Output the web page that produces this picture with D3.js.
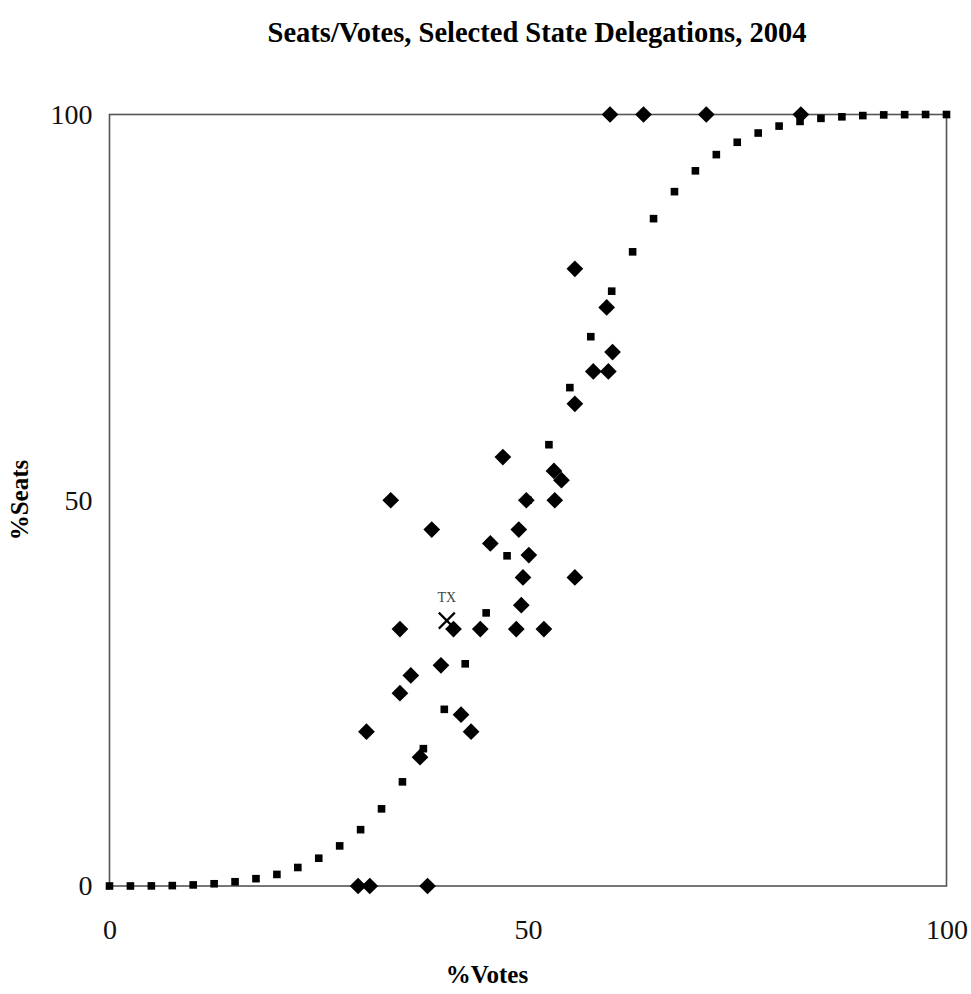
<!DOCTYPE html>
<html><head><meta charset="utf-8">
<script src="https://cdn.jsdelivr.net/npm/d3@7"></script>
<style>body{margin:0;background:#fff}svg{display:block}</style>
</head><body>
<svg id="chart" width="971" height="994"></svg>
<script>
// Cube-law reference curve (% votes vs % seats)
const curveVotes = [0,2.5,5,7.5,10,12.5,15,17.5,20,22.5,25,27.5,30,32.5,35,37.5,40,42.5,45,47.5,50,
  52.5,55,57.5,60,62.5,65,67.5,70,72.5,75,77.5,80,82.5,85,87.5,90,92.5,95,97.5,100];
const curveSeats = [0,0.002,0.015,0.05,0.14,0.29,0.55,0.95,1.5,2.4,3.6,5.2,7.3,10.0,13.5,17.8,22.9,28.8,35.4,42.8,50,
  57.2,64.6,71.2,77.1,82.2,86.5,90.0,92.7,94.8,96.4,97.6,98.5,99.1,99.5,99.7,99.86,99.95,99.98,100,100];

// State delegations (% votes, % seats)
const stateVotes = [29.7,31.1,38.0,30.7,33.6,34.7,34.7,36.0,37.1,38.5,39.6,41.1,42.0,43.2,44.3,45.5,47.0,48.6,48.9,49.2,49.4,49.8,50.1,51.9,53.1,53.2,54.0,55.6,55.6,55.6,57.8,59.4,59.6,60.1,59.8,63.8,71.3,82.6];
const stateSeats = [0,0,0,20.0,50.0,33.3,25.0,27.3,16.7,46.2,28.6,33.3,22.2,20.0,33.3,44.4,55.6,33.3,46.2,36.4,40.0,50.0,42.9,33.3,53.8,50.0,52.6,40.0,62.5,80.0,66.7,75.0,66.7,69.2,100,100,100,100];

// Highlighted state
const hlLabel = ["TX"];
const hlVotes = [40.3];
const hlSeats = [34.4];

const xTicks = [0,50,100];
const yTicks = [0,50,100];

const svg = d3.select("#chart");
const serif = "'Liberation Serif','DejaVu Serif',serif";
const x = d3.scaleLinear().domain([0,100]).range([109.5,946.5]);
const y = d3.scaleLinear().domain([0,100]).range([886,114.5]);

// frame
svg.append("rect").attr("x",x(0)).attr("y",y(100))
  .attr("width",x(100)-x(0)).attr("height",y(0)-y(100))
  .attr("fill","none").attr("stroke","#555").attr("stroke-width",1.6);

// axes (labels only)
const xAxis = d3.axisBottom(x).tickValues(xTicks).tickSize(0).tickPadding(33).tickFormat(d3.format("d"));
svg.append("g").attr("transform",`translate(0,${y(0)})`).call(xAxis)
  .call(g=>g.select(".domain").remove())
  .selectAll("text").attr("font-family",serif).attr("font-size",28).attr("fill","#111");
const yAxis = d3.axisLeft(y).tickValues(yTicks).tickSize(0).tickPadding(17).tickFormat(d3.format("d"));
svg.append("g").attr("transform",`translate(${x(0)},0)`).call(yAxis)
  .call(g=>g.select(".domain").remove())
  .selectAll("text").attr("font-family",serif).attr("font-size",28).attr("fill","#111");

// curve squares
svg.append("g").selectAll("rect").data(curveVotes.map((v,i)=>[v,curveSeats[i]])).join("rect")
  .attr("x",d=>x(d[0])-3.8).attr("y",d=>y(d[1])-3.8).attr("width",7.6).attr("height",7.6).attr("fill","#000");

// diamonds
svg.append("g").selectAll("path").data(stateVotes.map((v,i)=>[v,stateSeats[i]])).join("path")
  .attr("d", d3.symbol().type(d3.symbolSquare).size(140))
  .attr("transform",d=>`translate(${x(d[0])},${y(d[1])}) rotate(45)`).attr("fill","#000");

// highlighted cross
const hl = svg.append("g").selectAll("g").data(hlLabel.map((l,i)=>({l,v:hlVotes[i],s:hlSeats[i]}))).join("g")
  .attr("transform",d=>`translate(${x(d.v)},${y(d.s)})`);
hl.append("path").attr("d","M-8,-8L8,8M-8,8L8,-8").attr("stroke","#000").attr("stroke-width",2.2);
hl.append("text").attr("y",-19).attr("text-anchor","middle").attr("font-family",serif)
  .attr("font-size",14).attr("fill","#444").text(d=>d.l);

// titles
svg.append("text").attr("x",537).attr("y",42).attr("text-anchor","middle")
  .attr("font-family",serif).attr("font-weight","bold").attr("font-size",28.5).attr("fill","#000")
  .text("Seats/Votes, Selected State Delegations, 2004");
svg.append("text").attr("x",487).attr("y",983).attr("text-anchor","middle")
  .attr("font-family",serif).attr("font-weight","bold").attr("font-size",25).attr("fill","#000")
  .text("%Votes");
svg.append("text").attr("transform","translate(28,500) rotate(-90)").attr("text-anchor","middle")
  .attr("font-family",serif).attr("font-weight","bold").attr("font-size",25).attr("fill","#000")
  .text("%Seats");
</script>
</body></html>
